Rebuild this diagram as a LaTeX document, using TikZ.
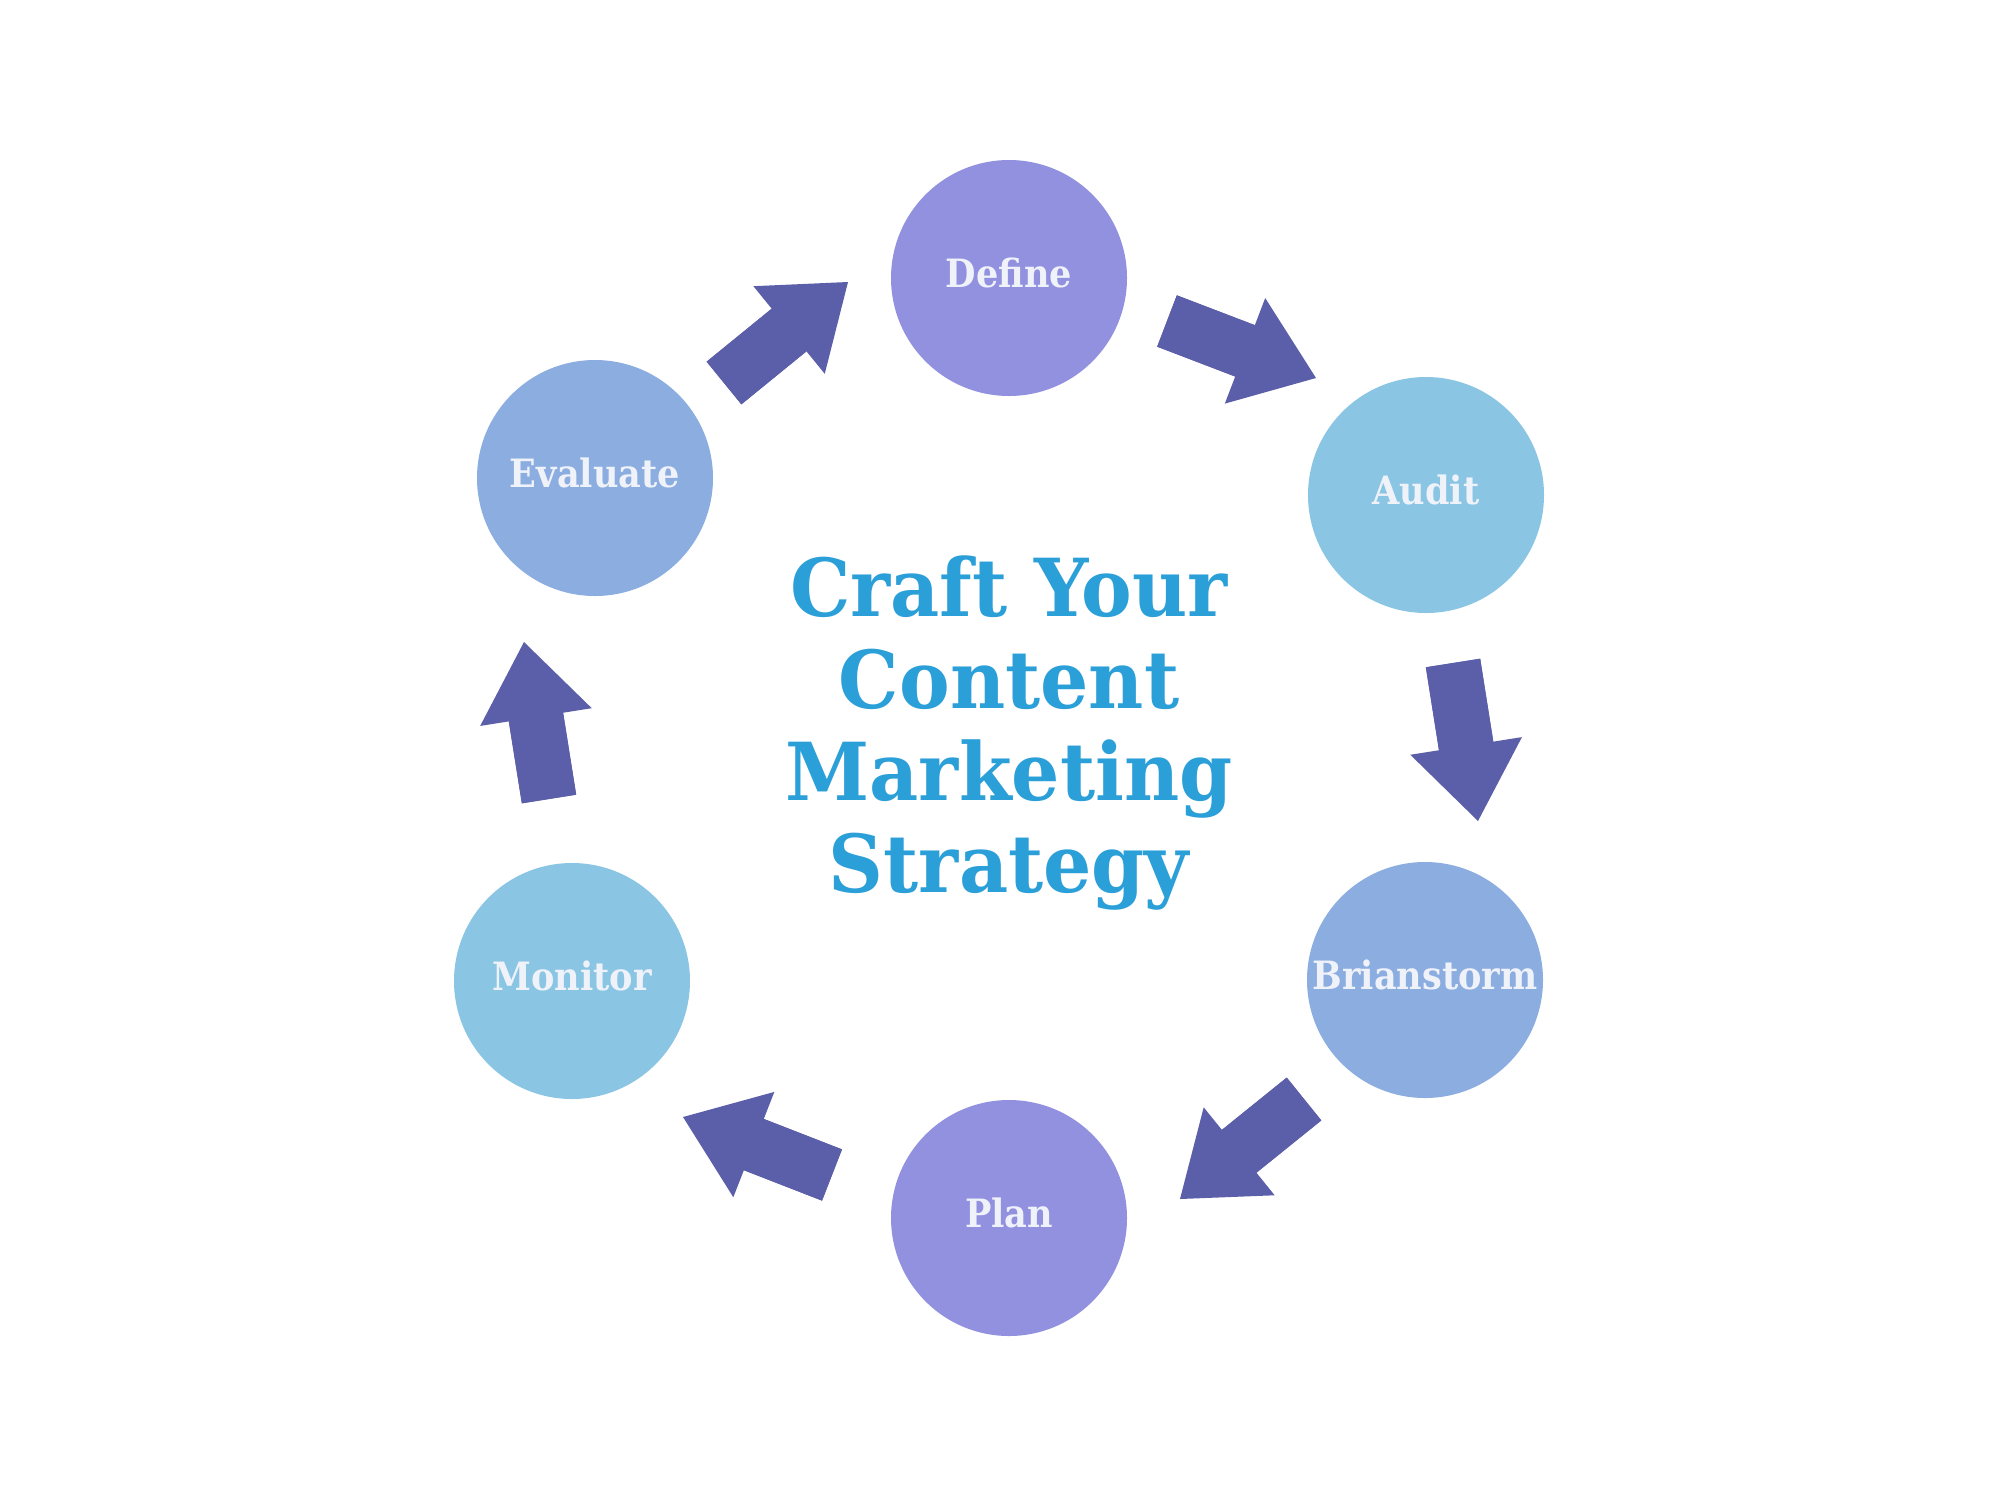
\documentclass[tikz,border=0pt]{standalone}
\usepackage{fontspec}
\usepackage{tikz}
\usetikzlibrary{arrows.meta, calc}
\setmainfont{DejaVu Serif}
\newfontfamily\stagefont[FakeStretch=0.9]{DejaVu Serif}
\newfontfamily\titlefont[FakeStretch=0.95]{DejaVu Serif}
\definecolor{stagepurple}{RGB}{146,145,224}
\definecolor{stagesky}{RGB}{138,198,228}
\definecolor{stageblue}{RGB}{139,173,224}
\definecolor{flowindigo}{RGB}{91,94,168}
\definecolor{titleblue}{RGB}{43,159,216}
\definecolor{labelwhite}{RGB}{240,242,250}

\begin{document}
\begin{tikzpicture}[x=1pt, y=-1pt,
		stage/.style={circle, fill=#1, minimum size=236pt, inner sep=0pt, text=labelwhite,
			font=\stagefont\bfseries\fontsize{39}{40}\selectfont, text height=18pt, text depth=0pt},
		flow/.style={draw=flowindigo, line width=55pt, -{Triangle[width=113pt, length=76pt, line width=0pt]}}]
			\fill[white] (0,0) rectangle (2000,1500);
			\useasboundingbox (0,0) rectangle (2000,1500);
			\foreach \n/\t/\c/\x/\y in {define/Define/stagepurple/1009/278, audit/Audit/stagesky/1426/495,
					brainstorm/Brianstorm/stageblue/1425/980, plan/Plan/stagepurple/1009/1218,
					monitor/Monitor/stagesky/572/981, evaluate/Evaluate/stageblue/595/478}
				\node[stage=\c] (\n) at (\x, \y) {\t};
			\foreach \n/\x/\y in {t1/1167/321, h1/1316/378, t2/1453/663, h2/1478/821,
					t3/1304/1099, h3/1180/1199, t4/832/1175, h4/683/1117,
					t5/549/799, h5/524/642, t6/724/383, h6/848/282}
				\coordinate (\n) at (\x, \y);
			\foreach \i in {1, ..., 6} {
				\draw[flow] (t\i) -- (h\i);
				\draw[flowindigo, line width=55pt] (t\i) -- ($(t\i)!0.56!(h\i)$);
			}
			\node[text=titleblue, font=\titlefont\bfseries\fontsize{80}{92}\selectfont, align=center] (title) at (1009, 733)
				{Craft Your\\Content\\Marketing\\Strategy};
		\end{tikzpicture}
\end{document}
